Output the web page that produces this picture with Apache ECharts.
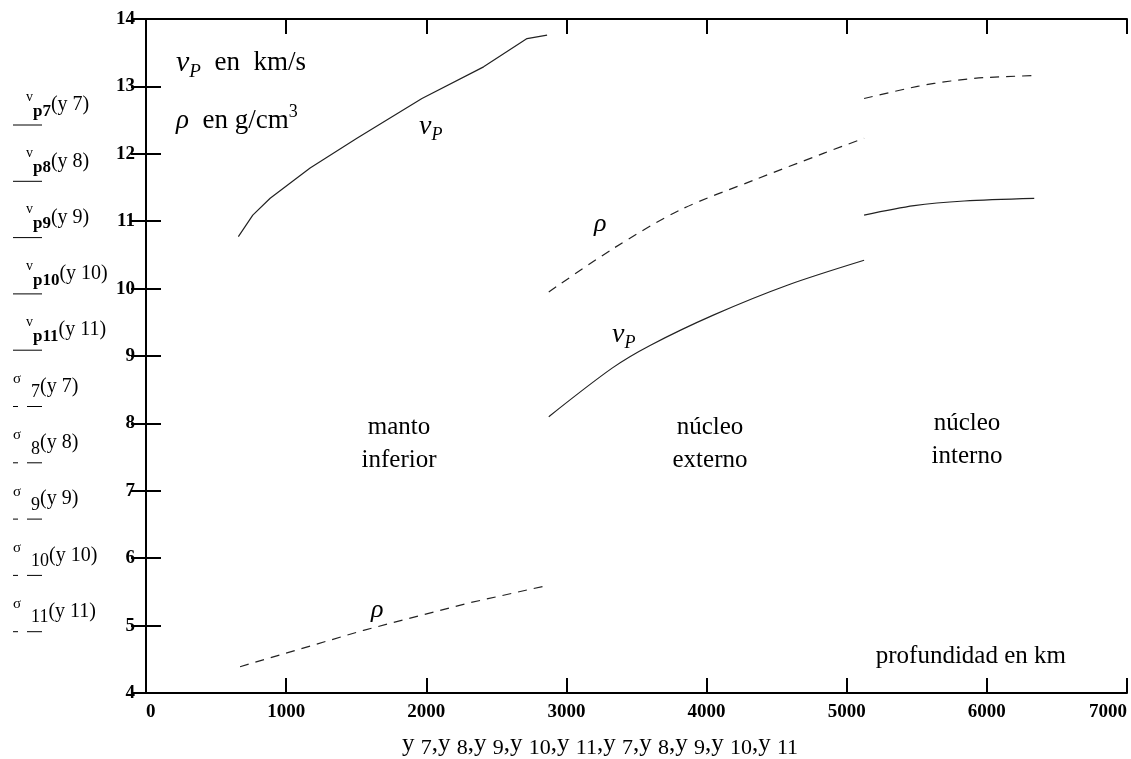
<!DOCTYPE html>
<html>
<head>
<meta charset="utf-8">
<script src="https://cdn.jsdelivr.net/npm/echarts@6/dist/echarts.min.js"></script>
<style>
  html, body { margin: 0; padding: 0; background: #fff; }
  #chart { width: 1131px; height: 759px; }
</style>
</head>
<body>
<div id="chart"></div>
<script>
// profundidad (km) y valores
const mantoDepth = [659, 762, 886, 1171, 1505, 1969, 2409, 2719, 2862];
const mantoVp = [10.77, 11.09, 11.34, 11.79, 12.23, 12.82, 13.29, 13.71, 13.76];
const mantoRhoDepth = [671, 1552, 2291, 2874];
const mantoRho = [4.39, 4.93, 5.33, 5.60];

const externoDepth = [2874, 3326, 3600, 4052, 4576, 5124];
const externoVp = [8.10, 8.82, 9.16, 9.61, 10.05, 10.42];
const externoRhoDepth = [2874, 3338, 3814, 4338, 4838, 5124];
const externoRho = [9.95, 10.60, 11.17, 11.61, 12.01, 12.23];

const internoDepth = [5124, 5481, 5838, 6338];
const internoVp = [11.09, 11.23, 11.30, 11.34];
const internoRhoDepth = [5124, 5505, 5743, 5981, 6338];
const internoRho = [12.82, 13.00, 13.08, 13.13, 13.16];

const legendIdx = ['7', '8', '9', '10', '11'];

const serif = "'Liberation Serif', 'Times New Roman', serif";
const zip = (xs, ys) => xs.map((x, i) => [x, ys[i]]);

const chart = echarts.init(document.getElementById('chart'));

const axisLine = { lineStyle: { color: '#000', width: 2 } };
const axisTick = { inside: true, length: 15, lineStyle: { color: '#000', width: 2 } };

const solid = { color: '#222', width: 1.2, type: 'solid' };
const dashed = { color: '#222', width: 1.2, type: [9, 7] };

const lineSeries = (data, style, smooth) => ({
  type: 'line',
  data: data,
  showSymbol: false,
  smooth: smooth || false,
  silent: true,
  lineStyle: style
});

// leyenda de la izquierda (estilo Mathcad)
const legendGraphics = [];
legendIdx.forEach((n, i) => {
  const y = 105 + 56.3 * i;
  legendGraphics.push({
    type: 'text', x: 26, y: y,
    style: {
      text: '{a|v}{b|p' + n + '}{c|(y ' + n + ')}',
      rich: {
        a: { fontFamily: serif, fontSize: 14, lineHeight: 30, verticalAlign: 'top', fill: '#000' },
        b: { fontFamily: serif, fontSize: 17, fontWeight: 'bold', lineHeight: 30, verticalAlign: 'bottom', fill: '#000' },
        c: { fontFamily: serif, fontSize: 20, lineHeight: 30, verticalAlign: 'middle', fill: '#000' }
      },
      verticalAlign: 'middle'
    }
  });
  legendGraphics.push({
    type: 'line', shape: { x1: 13, y1: y + 20, x2: 42, y2: y + 20 },
    style: { stroke: '#000', lineWidth: 1 }
  });
});
legendIdx.forEach((n, i) => {
  const y = 105 + 56.3 * (i + 5);
  legendGraphics.push({
    type: 'text', x: 13, y: y,
    style: {
      text: '{a|\u03c3}{b|' + n + '}{c|(y ' + n + ')}',
      rich: {
        a: { fontFamily: serif, fontSize: 15, lineHeight: 30, verticalAlign: 'top', fill: '#000' },
        b: { fontFamily: serif, fontSize: 18, lineHeight: 30, verticalAlign: 'bottom', padding: [0, 0, 0, 10], fill: '#000' },
        c: { fontFamily: serif, fontSize: 20, lineHeight: 30, verticalAlign: 'middle', fill: '#000' }
      },
      verticalAlign: 'middle'
    }
  });
  legendGraphics.push({
    type: 'line', shape: { x1: 13, y1: y + 20, x2: 42, y2: y + 20 },
    style: { stroke: '#000', lineWidth: 1, lineDash: [5, 9, 15, 0] }
  });
});

const vpRich = {
  v: { fontFamily: serif, fontSize: 30, fontStyle: 'italic', lineHeight: 36, verticalAlign: 'middle', fill: '#000' },
  p: { fontFamily: serif, fontSize: 19, fontStyle: 'italic', lineHeight: 36, verticalAlign: 'bottom', fill: '#000' },
  t: { fontFamily: serif, fontSize: 27, lineHeight: 36, verticalAlign: 'middle', fill: '#000' },
  s: { fontFamily: serif, fontSize: 18, lineHeight: 36, verticalAlign: 'top', fill: '#000' },
  r: { fontFamily: serif, fontSize: 27, fontStyle: 'italic', lineHeight: 36, verticalAlign: 'middle', fill: '#000' }
};

const vpSmall = {
  v: { fontFamily: serif, fontSize: 28, fontStyle: 'italic', lineHeight: 34, verticalAlign: 'middle', fill: '#000' },
  p: { fontFamily: serif, fontSize: 18, fontStyle: 'italic', lineHeight: 34, verticalAlign: 'bottom', fill: '#000' },
  r: { fontFamily: serif, fontSize: 26, fontStyle: 'italic', lineHeight: 34, verticalAlign: 'middle', fill: '#000' }
};

const label = (x, y, text, rich) => ({
  type: 'text', x: x, y: y,
  style: { text: text, rich: rich || vpSmall, verticalAlign: 'middle' }
});

const region = (x, y, text) => ({
  type: 'text', x: x, y: y,
  style: {
    text: text, fontFamily: serif, fontSize: 25, lineHeight: 33,
    align: 'center', verticalAlign: 'middle', fill: '#000'
  }
});

const option = {
  animation: false,
  backgroundColor: '#fff',
  grid: { left: 146, top: 19, right: 4, bottom: 66, containLabel: false },
  xAxis: [
    {
      type: 'value', min: 0, max: 7000, interval: 1000, position: 'bottom',
      axisLine: axisLine, axisTick: axisTick, splitLine: { show: false },
      axisLabel: {
        color: '#000', fontFamily: serif, fontSize: 19, fontWeight: 'bold',
        margin: 10, alignMaxLabel: 'right', alignMinLabel: 'left',
        formatter: v => String(v)
      }
    },
    {
      type: 'value', min: 0, max: 7000, interval: 1000, position: 'top',
      axisLine: axisLine, axisTick: axisTick, splitLine: { show: false },
      axisLabel: { show: false }
    }
  ],
  yAxis: [
    {
      type: 'value', min: 4, max: 14, interval: 1, position: 'left',
      axisLine: axisLine, axisTick: axisTick, splitLine: { show: false },
      axisLabel: { color: '#000', fontFamily: serif, fontSize: 19, fontWeight: 'bold', margin: 11 }
    },
    {
      type: 'value', min: 4, max: 14, interval: 1, position: 'right',
      axisLine: axisLine, axisTick: axisTick, splitLine: { show: false },
      axisLabel: { show: false }
    }
  ],
  series: [
    lineSeries(zip(mantoDepth, mantoVp), solid),
    lineSeries(zip(mantoRhoDepth, mantoRho), dashed),
    lineSeries(zip(externoDepth, externoVp), solid, 0.3),
    lineSeries(zip(externoRhoDepth, externoRho), dashed, 0.3),
    lineSeries(zip(internoDepth, internoVp), solid, 0.3),
    lineSeries(zip(internoRhoDepth, internoRho), dashed, 0.3)
  ],
  graphic: [
    label(176, 63, '{v|v}{p|P}{t|  en  km/s}', vpRich),
    label(176, 121, '{r|\u03c1}{t|  en g/cm}{s|3}', vpRich),
    label(419, 127, '{v|v}{p|P}'),
    label(612, 335, '{v|v}{p|P}'),
    label(594, 224, '{r|\u03c1}'),
    label(371, 610, '{r|\u03c1}'),
    region(399, 444, 'manto\ninferior'),
    region(710, 444, 'n\u00facleo\nexterno'),
    region(967, 440, 'n\u00facleo\ninterno'),
    {
      type: 'text', x: 1066, y: 656,
      style: { text: 'profundidad en km', fontFamily: serif, fontSize: 25, align: 'right', verticalAlign: 'middle', fill: '#000' }
    },
    {
      type: 'text', x: 402, y: 744,
      style: {
        text: legendIdx.concat(legendIdx).map(n => '{a|y }{b|' + n + '}').join('{a|,}'),
        rich: {
          a: { fontFamily: serif, fontSize: 25, lineHeight: 30, verticalAlign: 'middle', fill: '#000' },
          b: { fontFamily: serif, fontSize: 22, lineHeight: 30, verticalAlign: 'bottom', fill: '#000' }
        },
        verticalAlign: 'middle'
      }
    }
  ].concat(legendGraphics)
};

chart.setOption(option);
</script>
</body>
</html>
